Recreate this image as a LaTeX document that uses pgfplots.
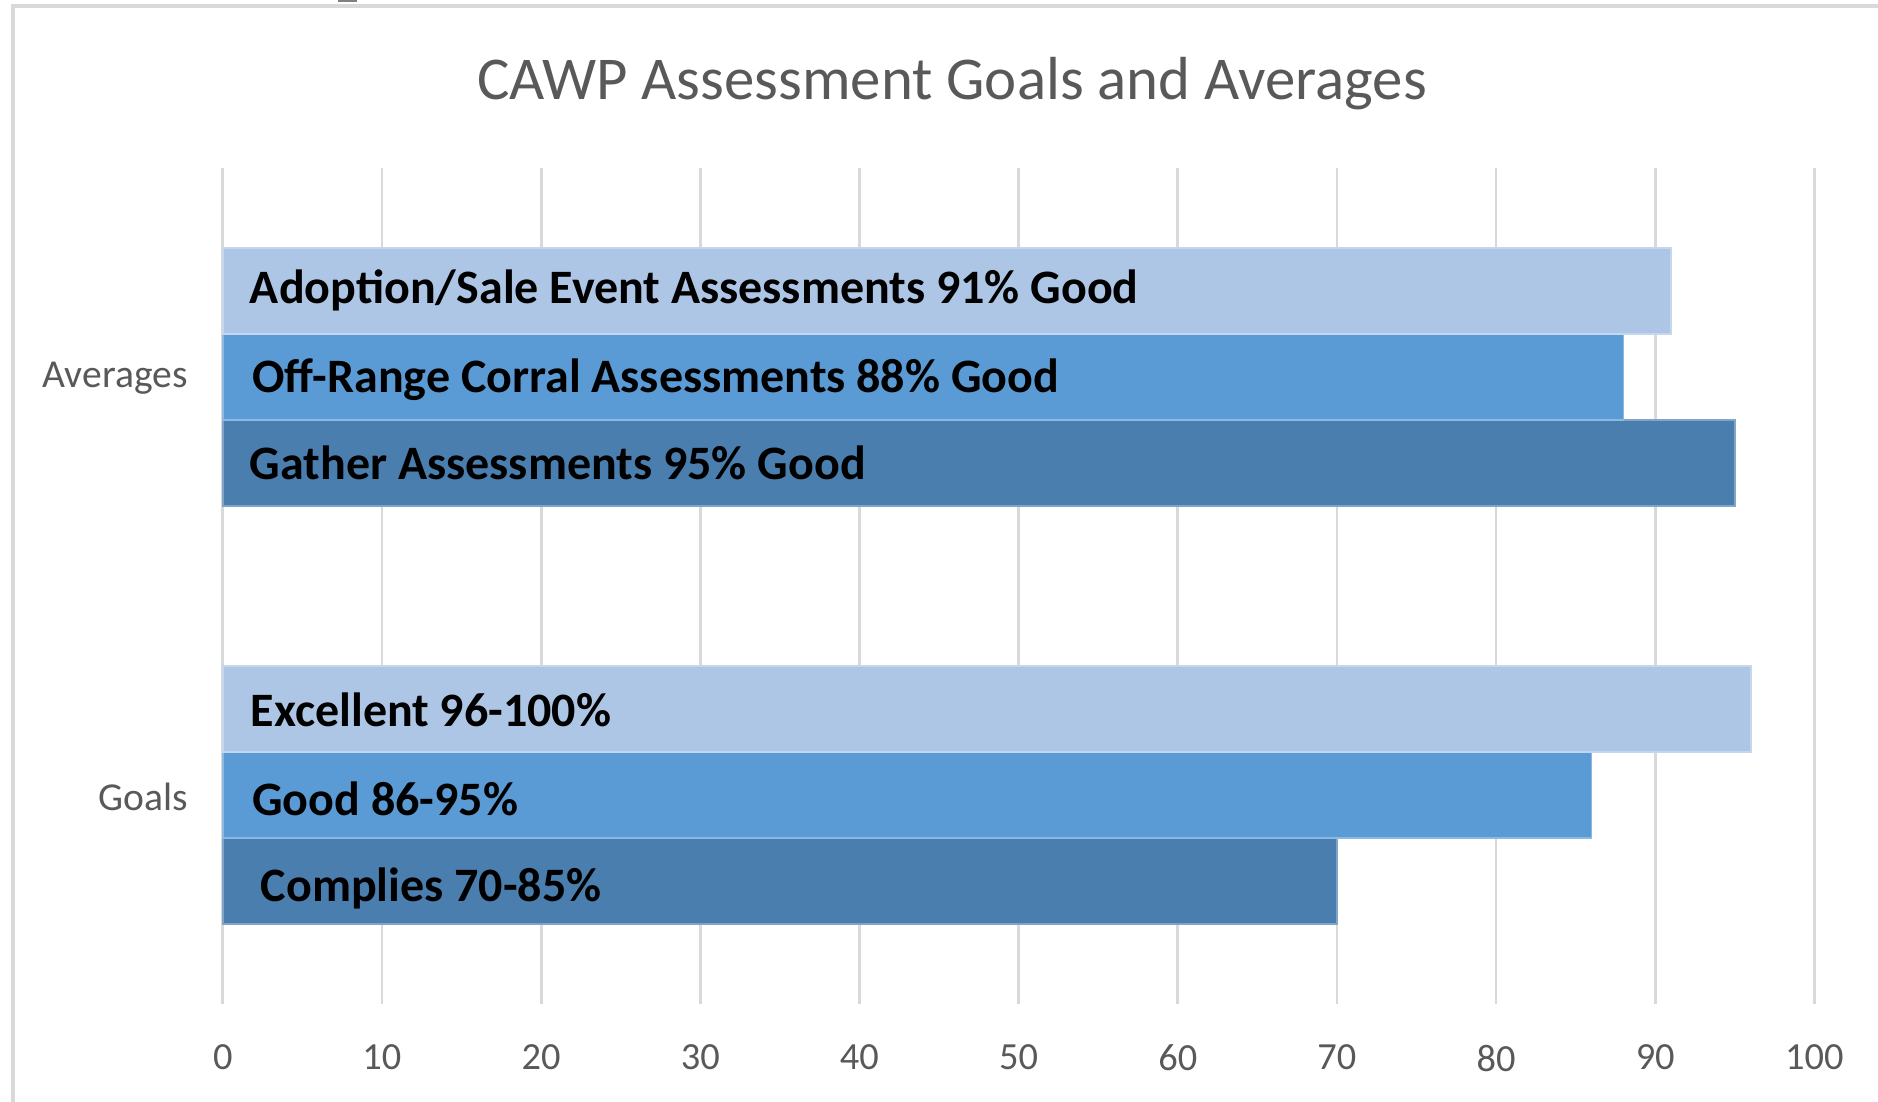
\documentclass[border=0pt]{standalone}
\usepackage{pgfplots}
\pgfplotsset{compat=1.18}
\usepackage{fontspec}
\setmainfont{Carlito}
\definecolor{lightbar}{HTML}{AEC6E5}
\definecolor{midbar}{HTML}{5B9BD5}
\definecolor{darkbar}{HTML}{4A7EAF}
\definecolor{gridgray}{HTML}{D9D9D9}
\definecolor{textgray}{HTML}{595959}
\begin{document}
\begin{tikzpicture}
\useasboundingbox (-55.7pt,-24.5pt) rectangle (413.8pt,251pt);
\clip (-55.7pt,-24.5pt) rectangle (413.8pt,251pt);
\draw[gridgray, line width=1pt] (-52.45pt,-60pt) -- (-52.45pt,249.5pt) -- (460pt,249.5pt);
\fill[black!50] (28.8pt,250.4pt) rectangle (33.5pt,252pt);
\node[anchor=base, text=textgray, font=\fontsize{15.2}{18}\selectfont] at (182.3pt,226.2pt) {CAWP Assessment Goals and Averages};
\begin{axis}[
  at={(0pt,0pt)}, anchor=south west,
  scale only axis, width=397.9pt, height=209pt,
  xmin=0, xmax=100, ymin=-0.5, ymax=1.5,
  axis line style={draw=none},
  major tick length=0pt,
  xtick={0,10,...,100},
  ytick={0,1}, yticklabels={Goals,Averages},
  xmajorgrids, ymajorgrids=false,
  grid style={gridgray, line width=0.7pt},
  /pgf/number format/assume math mode=true,
  ticklabel style={text=textgray, font=\fontsize{9.6}{11}\selectfont},
  xticklabel style={inner sep=0pt, anchor=north, yshift=-10pt},
  yticklabel style={inner sep=0pt, anchor=east, xshift=-8.6pt, yshift=-0.4pt, font=\fontsize{9.9}{11}\selectfont},
  xbar, bar width=0.206, bar shift=0pt,
  clip=false,
]
\addplot[fill=darkbar, draw=darkbar!70!white, line width=0.4pt] coordinates {(95,0.794) (70,-0.206)};
\addplot[fill=midbar, draw=midbar!70!white, line width=0.4pt] coordinates {(88,1) (86,0)};
\addplot[fill=lightbar, draw=lightbar!70!white, line width=0.4pt] coordinates {(91,1.206) (96,0.206)};
\begin{scope}[every node/.style={anchor=base west, inner sep=0pt, font=\fontsize{12}{14}\bfseries\selectfont, text=black}]
\node at (axis cs:0,1.206) [xshift=6.6pt, yshift=-3.1pt] {Adoption/Sale Event Assessments 91\% Good};
\node at (axis cs:0,1) [xshift=7.2pt, yshift=-3.8pt] {Off-Range Corral Assessments 88\% Good};
\node at (axis cs:0,0.794) [xshift=6.6pt, yshift=-4.1pt] {Gather Assessments 95\% Good};
\node at (axis cs:0,0.206) [xshift=6.8pt, yshift=-4.4pt] {Excellent 96-100\%};
\node at (axis cs:0,0) [xshift=7.2pt, yshift=-5.2pt] {Good 86-95\%};
\node at (axis cs:0,-0.206) [xshift=9.3pt, yshift=-5pt] {Complies 70-85\%};
\end{scope}
\end{axis}
\end{tikzpicture}
\end{document}
